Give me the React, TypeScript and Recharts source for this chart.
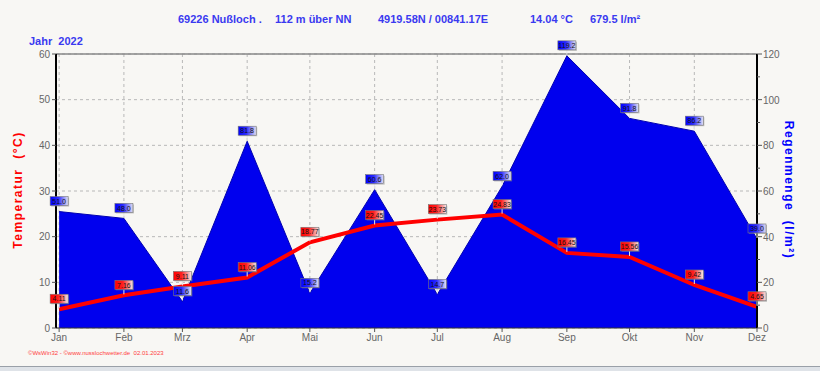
import React from "react";
import {
  ComposedChart,
  Area,
  Line,
  XAxis,
  YAxis,
  CartesianGrid,
  ReferenceLine,
  LabelList,
} from "recharts";

// month names and day-of-year of each month start (points sit on the 1st)
const months = ["Jan", "Feb", "Mrz", "Apr", "Mai", "Jun", "Jul", "Aug", "Sep", "Okt", "Nov", "Dez"];
const monthStart = [0, 31, 59, 90, 120, 151, 181, 212, 243, 273, 304, 334];

// monthly mean temperature (°C)
const temperature = [4.11, 7.16, 9.11, 11.06, 18.77, 22.45, 23.73, 24.83, 16.45, 15.56, 9.42, 4.65];
// monthly rain (l/m²)
const rain = [51.0, 48.0, 11.6, 81.8, 15.2, 60.6, 14.7, 62.0, 119.2, 91.8, 86.2, 39.0];

const tempTicks = [0, 10, 20, 30, 40, 50, 60];
const rainTicks = [0, 10, 20, 30, 40, 50, 60, 70, 80, 90, 100, 110, 120];

const data = months.map((m, i) => ({
  day: monthStart[i],
  month: m,
  temp: temperature[i],
  rain: rain[i],
}));

const TagLabel = (props: any) => {
  const { x, y, value, kind } = props;
  if (x == null || y == null) return null;
  const w = 18;
  const h = 9;
  const bx = x - w / 2;
  const by = y - h - 6;
  const txt = kind === "t" ? Number(value).toFixed(2) : Number(value).toFixed(1);
  return (
    <g>
      <line x1={x} y1={by + h} x2={x} y2={y - 1} stroke="#e8e8e8" strokeWidth={1} />
      <rect x={bx + 1} y={by + 1} width={w} height={h} fill="#888" opacity={0.5} />
      <rect
        x={bx}
        y={by}
        width={w}
        height={h}
        fill={kind === "t" ? "url(#gradT)" : "url(#gradR)"}
        stroke="#777"
        strokeWidth={0.6}
      />
      <text
        x={x}
        y={by + h - 1.8}
        textAnchor="middle"
        fontSize={7}
        fontFamily="Liberation Sans, Arial, sans-serif"
        fill="#111"
      >
        {txt}
      </text>
    </g>
  );
};

const RightTick = (props: any) => {
  const { x, y, payload } = props;
  const major = payload.value % 20 === 0;
  return (
    <g>
      <line x1={x - 8} y1={y} x2={x - 8 + (major ? 5 : 3)} y2={y} stroke="#555" />
      {major && (
        <text x={x - 2} y={y + 4} fontSize={10} fill="#666" fontFamily="Liberation Sans, Arial, sans-serif">
          {payload.value}
        </text>
      )}
    </g>
  );
};

export default function App() {
  const titleStyle: React.CSSProperties = {
    position: "absolute",
    top: 13,
    fontSize: 11,
    fontWeight: "bold",
    color: "#3a3af0",
    fontFamily: "'Liberation Sans Narrow', 'Liberation Sans', Arial, sans-serif",
    whiteSpace: "nowrap",
  };
  return (
    <div
      style={{
        position: "fixed",
        left: 0,
        top: 0,
        width: 820,
        height: 371,
        background: "#f8f7f4",
        overflow: "hidden",
      }}
    >
      <div style={{ ...titleStyle, left: 178 }}>69226 Nußloch .</div>
      <div style={{ ...titleStyle, left: 275 }}>112 m über NN</div>
      <div style={{ ...titleStyle, left: 378 }}>4919.58N / 00841.17E</div>
      <div style={{ ...titleStyle, left: 530 }}>14.04 °C</div>
      <div style={{ ...titleStyle, left: 590 }}>679.5 l/m²</div>
      <div style={{ ...titleStyle, left: 29, top: 35 }}>Jahr&nbsp; 2022</div>

      <ComposedChart
        width={820}
        height={371}
        data={data}
        margin={{ top: 54, right: 23, bottom: 23, left: 26 }}
        style={{ position: "absolute", left: 0, top: 0 }}
      >
        <defs>
          <linearGradient id="gradT" x1="0" y1="0" x2="1" y2="0">
            <stop offset="0%" stopColor="#ff0000" />
            <stop offset="45%" stopColor="#ff2020" />
            <stop offset="100%" stopColor="#f4e8e8" />
          </linearGradient>
          <linearGradient id="gradR" x1="0" y1="0" x2="1" y2="0">
            <stop offset="0%" stopColor="#0000ff" />
            <stop offset="45%" stopColor="#2a2aff" />
            <stop offset="100%" stopColor="#e4e4f4" />
          </linearGradient>
        </defs>
        <CartesianGrid yAxisId="t" strokeDasharray="3 3" stroke="#b8b8b8" />
        <XAxis
          dataKey="day"
          type="number"
          domain={[-1.5, 334]}
          ticks={monthStart}
          tickFormatter={(v: number) => months[monthStart.indexOf(v)]}
          tick={{ fontSize: 10, fill: "#666", fontFamily: "Liberation Sans, Arial, sans-serif" }}
          axisLine={{ stroke: "#333" }}
          tickLine={{ stroke: "#555" }}
          tickSize={4}
          height={20}
          interval={0}
        />
        <YAxis
          yAxisId="t"
          domain={[0, 60]}
          ticks={tempTicks}
          tick={{ fontSize: 10, fill: "#666", fontFamily: "Liberation Sans, Arial, sans-serif" }}
          axisLine={{ stroke: "#000", strokeWidth: 2 }}
          tickLine={{ stroke: "#555" }}
          tickSize={4}
          width={30}
          allowDataOverflow
        />
        <YAxis
          yAxisId="r"
          orientation="right"
          domain={[0, 120]}
          ticks={rainTicks}
          tick={<RightTick />}
          axisLine={{ stroke: "#000", strokeWidth: 2 }}
          tickLine={false}
          width={40}
          interval={0}
        />
        <ReferenceLine yAxisId="t" y={60} stroke="#888" strokeWidth={1.5} />
        <Area
          yAxisId="r"
          dataKey="rain"
          type="linear"
          fill="#0000ee"
          fillOpacity={1}
          stroke="#0000b0"
          strokeWidth={1}
          isAnimationActive={false}
        >
          <LabelList dataKey="rain" content={(p: any) => <TagLabel {...p} kind="r" />} />
        </Area>
        <Line
          yAxisId="t"
          dataKey="temp"
          type="linear"
          stroke="#ff0000"
          strokeWidth={4}
          dot={false}
          isAnimationActive={false}
        >
          <LabelList dataKey="temp" content={(p: any) => <TagLabel {...p} kind="t" />} />
        </Line>
        <text
          transform="translate(22,190) rotate(-90)"
          textAnchor="middle"
          fontSize={12}
          fontWeight="bold"
          fill="#ff0000"
          letterSpacing={1.5}
          fontFamily="Liberation Sans, Arial, sans-serif"
        >
          Temperatur&nbsp; (°C)
        </text>
        <text
          transform="translate(785,190) rotate(90)"
          textAnchor="middle"
          fontSize={12}
          fontWeight="bold"
          fill="#0000ff"
          letterSpacing={1.5}
          fontFamily="Liberation Sans, Arial, sans-serif"
        >
          Regenmenge&nbsp; (l/m²)
        </text>
        <text x={28} y={355} fontSize={6} fill="#ff4040" fontFamily="Liberation Sans, Arial, sans-serif">
          ©WsWin32 - ©www.nusslochwetter.de&nbsp; 02.01.2023
        </text>
      </ComposedChart>
      <div
        style={{
          position: "absolute",
          left: 0,
          top: 366,
          width: 820,
          height: 5,
          background: "#dfe3e8",
          borderTop: "1px solid #9aa0a8",
        }}
      />
    </div>
  );
}
